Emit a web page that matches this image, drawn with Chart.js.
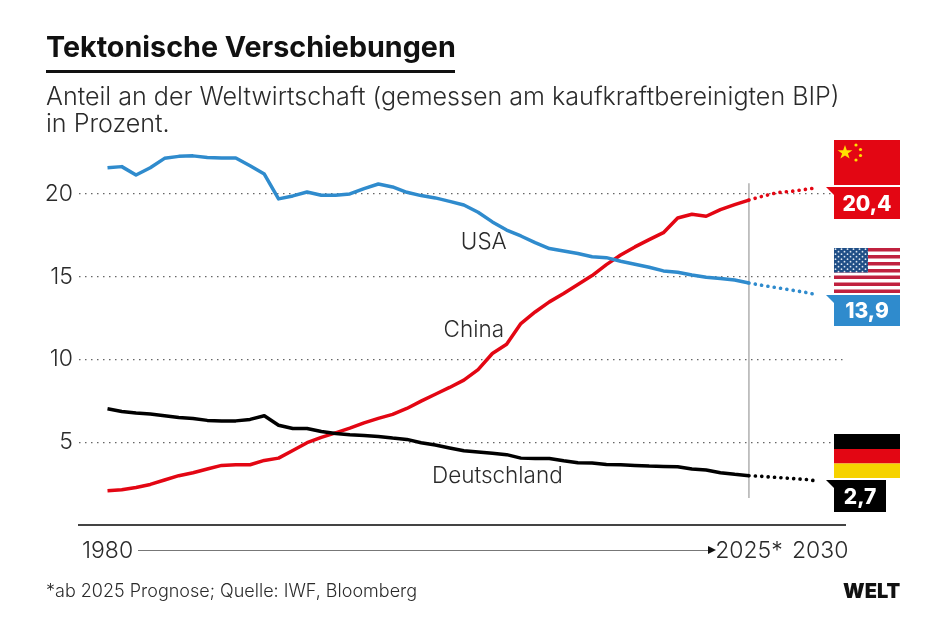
<!DOCTYPE html>
<html lang="de">
<head>
<meta charset="utf-8">
<title>Tektonische Verschiebungen</title>
<script src="https://cdn.jsdelivr.net/npm/chart.js@4"></script>
<style>
    html, body { margin: 0; padding: 0; background: #fff; }
    #page { position: relative; width: 945px; height: 622px; overflow: hidden; font-family: Inter, sans-serif; color: #2b2b2b; }
    #page canvas { position: absolute; left: 0; top: 0; }
    .text { position: absolute; white-space: nowrap; }
    #title { left: 46px; top: 29px; font-size: 28.7px; font-weight: 700; color: #111; }
    #rule { position: absolute; left: 46px; top: 70px; width: 409px; height: 3px; background: #111; }
    #sub1 { left: 46px; top: 81px; font-size: 25.1px; font-weight: 300; }
    #sub2 { left: 46px; top: 108px; font-size: 25.1px; font-weight: 300; }
    #note { left: 46px; top: 580px; font-size: 18px; font-weight: 300; }
    #logo { left: 843px; top: 579px; font-size: 20px; font-weight: 900; color: #111; }
    #arrow { position: absolute; left: 138px; top: 550px; width: 570px; height: 1px; background: #777; }
    #arrowhead { position: absolute; left: 708px; top: 546px; width: 0; height: 0; border-left: 8px solid #111; border-top: 4.5px solid transparent; border-bottom: 4.5px solid transparent; }
    #flags { position: absolute; left: 0; top: 0; }
    #flags text { font-family: Inter, sans-serif; font-weight: 800; font-size: 21px; fill: #fff; text-anchor: middle; }
</style>
</head>
<body>
<div id="page">
    <canvas id="shareChart" width="945" height="622"></canvas>
    <div class="text" id="title">Tektonische Verschiebungen</div>
    <div id="rule"></div>
    <div class="text" id="sub1">Anteil an der Weltwirtschaft (gemessen am kaufkraftbereinigten BIP)</div>
    <div class="text" id="sub2">in Prozent.</div>
    <div id="arrow"></div>
    <div id="arrowhead"></div>
    <div class="text" id="note">*ab 2025 Prognose; Quelle: IWF, Bloomberg</div>
    <div class="text" id="logo">WELT</div>

    <svg id="flags" width="945" height="622" xmlns="http://www.w3.org/2000/svg">
        <defs>
            <pattern id="stars" width="6" height="5" patternUnits="userSpaceOnUse" x="834" y="248">
                <rect width="6" height="5" fill="#1f4e86"/>
                <circle cx="1.5" cy="1.2" r="0.9" fill="#dfe8f2"/>
                <circle cx="4.5" cy="3.7" r="0.9" fill="#dfe8f2"/>
            </pattern>
        </defs>

        <!-- China -->
        <rect x="834" y="140" width="66" height="45" fill="#e30613"/>
        <polygon points="845,145 846.8,150.2 852.4,150.2 847.9,153.4 849.6,158.6 845,155.4 840.4,158.6 842.1,153.4 837.6,150.2 843.2,150.2" fill="#ffe000"/>
        <circle cx="856" cy="145" r="1.6" fill="#ffe000"/>
        <circle cx="860.5" cy="149.5" r="1.6" fill="#ffe000"/>
        <circle cx="860.5" cy="155.5" r="1.6" fill="#ffe000"/>
        <circle cx="856" cy="160" r="1.6" fill="#ffe000"/>
        <polygon points="826,187 900,187 900,219 834,219 834,195" fill="#e30613"/>
        <text x="867" y="211">20,4</text>

        <!-- USA -->
        <rect x="834" y="248" width="66" height="45" fill="#fff"/>
        <rect x="834" y="248" width="66" height="3.5" fill="#c0213f"/>
        <rect x="834" y="255" width="66" height="3.5" fill="#c0213f"/>
        <rect x="834" y="262" width="66" height="3.5" fill="#c0213f"/>
        <rect x="834" y="269" width="66" height="3.5" fill="#c0213f"/>
        <rect x="834" y="275.5" width="66" height="3.5" fill="#c0213f"/>
        <rect x="834" y="282.5" width="66" height="3.5" fill="#c0213f"/>
        <rect x="834" y="289.5" width="66" height="3.5" fill="#c0213f"/>
        <rect x="834" y="248" width="34" height="24.5" fill="url(#stars)"/>
        <polygon points="826,295 900,295 900,326 834,326 834,303" fill="#2f8bcd"/>
        <text x="867" y="318">13,9</text>

        <!-- Deutschland -->
        <rect x="834" y="434" width="66" height="15" fill="#000"/>
        <rect x="834" y="449" width="66" height="14.5" fill="#e30613"/>
        <rect x="834" y="463.5" width="66" height="14.5" fill="#f6d200"/>
        <polygon points="826,480 886,480 886,512 834,512 834,488" fill="#000"/>
        <text x="860" y="504">2,7</text>
    </svg>
</div>

<script>
// Anteil am kaufkraftbereinigten Welt-BIP, jaehrlich 1980-2025
const years = [
    1980, 1981, 1982, 1983, 1984, 1985, 1986, 1987, 1988, 1989, 1990, 1991,
    1992, 1993, 1994, 1995, 1996, 1997, 1998, 1999, 2000, 2001, 2002, 2003,
    2004, 2005, 2006, 2007, 2008, 2009, 2010, 2011, 2012, 2013, 2014, 2015,
    2016, 2017, 2018, 2019, 2020, 2021, 2022, 2023, 2024, 2025
];
const usaValues = [
    21.58, 21.65, 21.14, 21.58, 22.15, 22.27, 22.30, 22.20, 22.17, 22.17, 21.70, 21.20,
    19.70, 19.88, 20.12, 19.92, 19.92, 20.00, 20.32, 20.60, 20.42, 20.10, 19.90, 19.76,
    19.55, 19.33, 18.89, 18.31, 17.82, 17.46, 17.06, 16.70, 16.55, 16.40, 16.21, 16.15,
    15.93, 15.75, 15.57, 15.35, 15.27, 15.10, 14.97, 14.89, 14.80, 14.62
];
const chinaValues = [
    2.07, 2.13, 2.27, 2.45, 2.72, 2.98, 3.16, 3.38, 3.60, 3.64, 3.64, 3.90,
    4.04, 4.50, 4.97, 5.29, 5.57, 5.85, 6.17, 6.44, 6.68, 7.04, 7.48, 7.90,
    8.31, 8.75, 9.39, 10.36, 10.92, 12.17, 12.87, 13.48, 13.98, 14.53, 15.07, 15.73,
    16.31, 16.80, 17.24, 17.66, 18.55, 18.77, 18.65, 19.05, 19.35, 19.63
];
const germanyValues = [
    7.02, 6.86, 6.76, 6.70, 6.60, 6.50, 6.44, 6.32, 6.28, 6.29, 6.38, 6.60,
    6.03, 5.83, 5.83, 5.65, 5.53, 5.45, 5.41, 5.35, 5.25, 5.17, 4.97, 4.83,
    4.65, 4.48, 4.41, 4.33, 4.25, 4.04, 4.02, 4.02, 3.88, 3.76, 3.74, 3.66,
    3.64, 3.60, 3.56, 3.54, 3.52, 3.38, 3.32, 3.16, 3.06, 2.98
];

// Prognose ab 2025 (die Linien enden im Original knapp vor 2030)
const forecastYears = [2025, 2026, 2027, 2028, 2029, 2029.7];
const usaForecast = [14.62, 14.47, 14.33, 14.19, 14.05, 13.92];
const chinaForecast = [19.63, 19.87, 20.08, 20.16, 20.28, 20.36];
const germanyForecast = [2.98, 2.93, 2.87, 2.81, 2.75, 2.67];

const yTicks = [5, 10, 15, 20];
const xTicks = [1980, 2025, 2030];
const xTickLabels = ['1980', '2025*', '2030'];

const BLUE = '#2f8bcd';
const RED = '#e30613';
const BLACK = '#000000';
const FONT = 'Inter, sans-serif';

function toPoints(xs, ys) {
    return xs.map((x, i) => ({ x: x, y: ys[i] }));
}

function solidLine(label, values, color) {
    return {
        label: label,
        data: toPoints(years, values),
        borderColor: color,
        borderWidth: 3.5,
        borderJoinStyle: 'round',
        pointRadius: 0,
        tension: 0
    };
}

function dottedLine(label, values, color) {
    return {
        label: label,
        data: toPoints(forecastYears, values),
        borderColor: color,
        borderWidth: 3.6,
        borderCapStyle: 'round',
        borderDash: [0.1, 6.3],
        pointRadius: 0,
        tension: 0
    };
}

// Schreibt die Namen der Linien an Datenpositionen
const seriesLabels = {
    id: 'seriesLabels',
    afterDatasetsDraw(chart) {
        const { ctx, scales: { x, y } } = chart;
        ctx.save();
        ctx.font = '300 22.5px ' + FONT;
        ctx.fillStyle = '#2b2b2b';
        ctx.textBaseline = 'middle';
        ctx.textAlign = 'center';
        ctx.fillText('USA', x.getPixelForValue(2006.4), y.getPixelForValue(17.1));
        ctx.fillText('China', x.getPixelForValue(2005.7), y.getPixelForValue(11.75));
        ctx.fillText('Deutschland', x.getPixelForValue(2007.35), y.getPixelForValue(2.95));
        ctx.restore();
    }
};

new Chart(document.getElementById('shareChart').getContext('2d'), {
    type: 'line',
    data: {
        datasets: [
            solidLine('USA', usaValues, BLUE),
            solidLine('Deutschland', germanyValues, BLACK),
            solidLine('China', chinaValues, RED),
            dottedLine('USA Prognose', usaForecast, BLUE),
            dottedLine('Deutschland Prognose', germanyForecast, BLACK),
            dottedLine('China Prognose', chinaForecast, RED),
            {
                label: '2025',
                data: [{ x: 2025, y: 20.64 }, { x: 2025, y: 1.63 }],
                borderColor: '#b0b0b0',
                borderWidth: 1.5,
                pointRadius: 0
            }
        ]
    },
    options: {
        responsive: false,
        animation: false,
        layout: { padding: { top: 136, right: 100, left: 0, bottom: 0 } },
        plugins: {
            legend: { display: false },
            tooltip: { enabled: false }
        },
        scales: {
            x: {
                type: 'linear',
                min: 1978,
                max: 2031.74,
                afterFit: scale => { scale.height = 97; },
                afterBuildTicks: scale => { scale.ticks = xTicks.map(v => ({ value: v })); },
                grid: { display: false, drawTicks: false },
                border: { color: '#444444', width: 2 },
                ticks: {
                    autoSkip: false,
                    maxRotation: 0,
                    padding: 12,
                    color: '#2b2b2b',
                    font: { family: FONT, size: 23, weight: '300' },
                    callback: value => xTickLabels[xTicks.indexOf(value)]
                }
            },
            y: {
                min: 0,
                max: 23.5,
                afterFit: scale => { scale.width = 79; },
                afterBuildTicks: scale => { scale.ticks = yTicks.map(v => ({ value: v })); },
                grid: { color: '#666666', lineWidth: 1.3, drawTicks: false },
                border: { display: false, dash: [1.5, 4.5] },
                ticks: {
                    padding: 6,
                    color: '#2b2b2b',
                    font: { family: FONT, size: 23, weight: '300' }
                }
            }
        }
    },
    plugins: [seriesLabels]
});
</script>
</body>
</html>
